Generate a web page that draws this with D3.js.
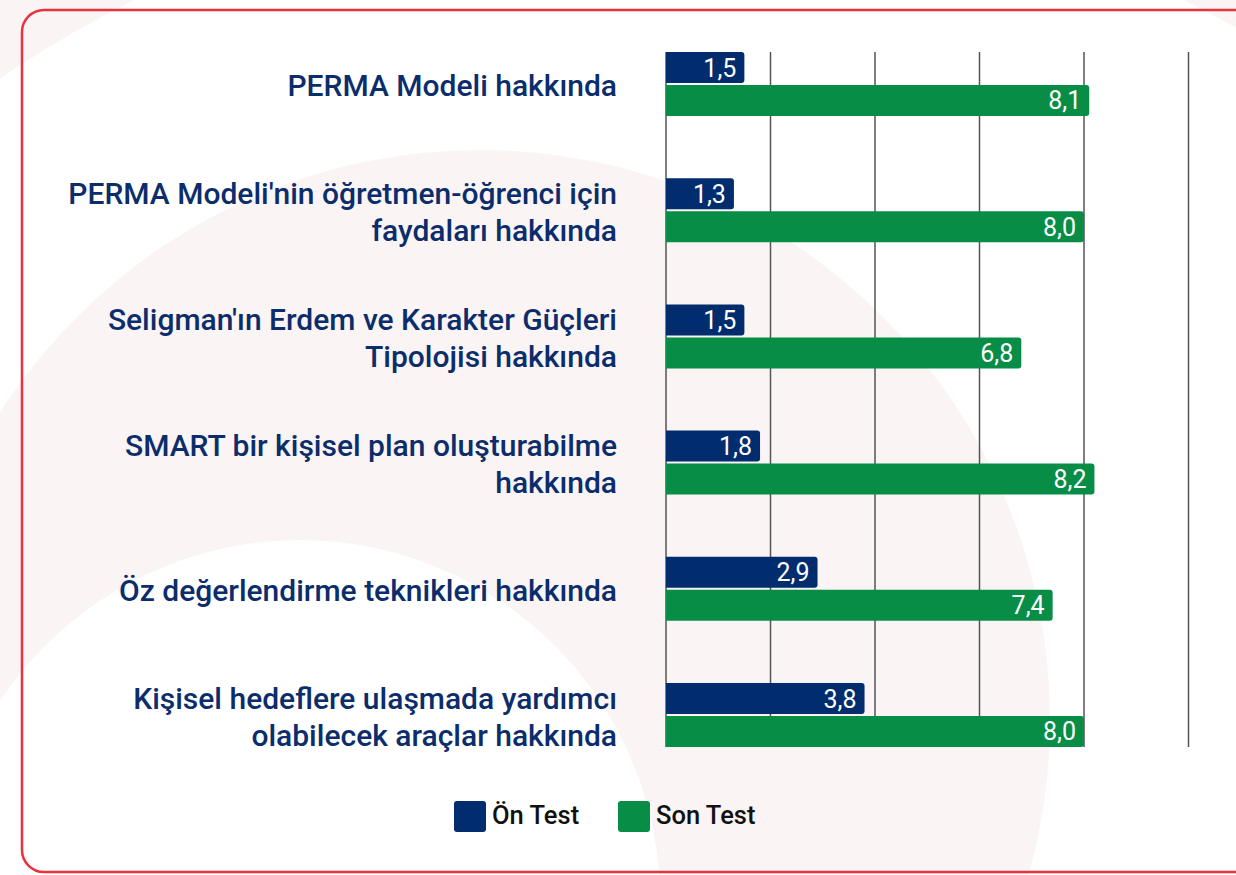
<!DOCTYPE html>
<html>
<head>
<meta charset="utf-8">
<script src="https://cdn.jsdelivr.net/npm/d3@7"></script>
<style>
  body { margin: 0; background: #fff; }
  text { font-family: Roboto, "Noto Sans", sans-serif; }
</style>
</head>
<body>
<script>
//Chart data
var categories = [
  "PERMA Modeli hakkında",
  "PERMA Modeli'nin öğretmen-öğrenci için faydaları hakkında",
  "Seligman'ın Erdem ve Karakter Güçleri Tipolojisi hakkında",
  "SMART bir kişisel plan oluşturabilme hakkında",
  "Öz değerlendirme teknikleri hakkında",
  "Kişisel hedeflere ulaşmada yardımcı olabilecek araçlar hakkında"
];
var labelLines = [
  ["PERMA Modeli hakkında"],
  ["PERMA Modeli'nin öğretmen-öğrenci için", "faydaları hakkında"],
  ["Seligman'ın Erdem ve Karakter Güçleri", "Tipolojisi hakkında"],
  ["SMART bir kişisel plan oluşturabilme", "hakkında"],
  ["Öz değerlendirme teknikleri hakkında"],
  ["Kişisel hedeflere ulaşmada yardımcı", "olabilecek araçlar hakkında"]
];
var seriesNames = ["Ön Test", "Son Test"];
var onTest = [1.5, 1.3, 1.5, 1.8, 2.9, 3.8];
var sonTest = [8.1, 8.0, 6.8, 8.2, 7.4, 8.0];
var gridTicks = [0, 2, 4, 6, 8, 10];

var colors = {"Ön Test": "#012c6e", "Son Test": "#078d46"};

var W = 1236, H = 875;

var svg = d3.select("body")
  .append("svg")
    .attr("width", W)
    .attr("height", H);

//Faint pink background swoosh
var bg = svg.append("g");
bg.append("circle")
  .attr("cx", 659).attr("cy", 1049).attr("r", 1173 + 500)
  .attr("fill", "none")
  .attr("stroke", "#fbf4f4")
  .attr("stroke-width", 1000);
bg.append("circle")
  .attr("cx", 480).attr("cy", 720).attr("r", 570)
  .attr("fill", "#fbf4f4");
bg.append("circle")
  .attr("cx", 300).attr("cy", 900).attr("r", 360)
  .attr("fill", "#ffffff");

//Card border
svg.append("rect")
  .attr("x", 22).attr("y", 10)
  .attr("width", 1300).attr("height", 862)
  .attr("rx", 22)
  .attr("fill", "none")
  .attr("stroke", "#e8333f")
  .attr("stroke-width", 2.5);

//Scales
var xScale = d3.scaleLinear()
  .domain([0, 10])
  .range([666, 1188.5]);

var yScale = d3.scaleBand()
  .domain(categories)
  .range([52, 747])
  .paddingInner(0.493)
  .paddingOuter(0);

var ySub = d3.scaleBand()
  .domain(seriesNames)
  .range([0, yScale.bandwidth()])
  .paddingInner(0.06);

var fmt = d3.formatLocale({decimal: ",", thousands: ".", grouping: [3], currency: ["", ""]}).format(".1f");

//Vertical gridlines
svg.append("g")
  .selectAll("line")
  .data(gridTicks)
  .enter()
  .append("line")
    .attr("x1", function(d) { return xScale(d); })
    .attr("x2", function(d) { return xScale(d); })
    .attr("y1", yScale.range()[0])
    .attr("y2", yScale.range()[1])
    .attr("stroke", "#555")
    .attr("stroke-width", 1.5);

//Bar shape with rounded right end
function barPath(x0, x1, y, h, r) {
  return "M" + x0 + "," + y +
    "H" + (x1 - r) +
    "Q" + x1 + "," + y + " " + x1 + "," + (y + r) +
    "V" + (y + h - r) +
    "Q" + x1 + "," + (y + h) + " " + (x1 - r) + "," + (y + h) +
    "H" + x0 + "Z";
}

var rows = categories.map(function(c, i) {
  return {cat: c, values: [{s: "Ön Test", v: onTest[i]}, {s: "Son Test", v: sonTest[i]}]};
});

var groups = svg.append("g")
  .selectAll("g")
  .data(rows)
  .enter()
  .append("g")
    .attr("transform", function(d) { return "translate(0," + yScale(d.cat) + ")"; });

var bars = groups.selectAll("g")
  .data(function(d) { return d.values; })
  .enter()
  .append("g");

bars.append("path")
  .attr("fill", function(d) { return colors[d.s]; })
  .attr("d", function(d) {
    return barPath(xScale(0), xScale(d.v), ySub(d.s), ySub.bandwidth(), 3);
  });

bars.append("text")
  .attr("x", function(d) { return xScale(d.v) - 8; })
  .attr("y", function(d) { return ySub(d.s) + ySub.bandwidth() / 2; })
  .attr("dy", "0.36em")
  .attr("text-anchor", "end")
  .attr("fill", "#fff")
  .style("font-size", "25px")
  .text(function(d) { return fmt(d.v); });

//Category labels
var lineH = 37;
svg.append("g")
  .selectAll("text")
  .data(categories)
  .enter()
  .append("text")
    .attr("text-anchor", "end")
    .attr("fill", "#0b2d6b")
    .style("font-size", "30px")
    .style("font-weight", 500)
    .each(function(d, i) {
      var lines = labelLines[i];
      var cy = yScale(d) + yScale.bandwidth() / 2;
      d3.select(this).selectAll("tspan")
        .data(lines)
        .enter()
        .append("tspan")
          .attr("x", 617)
          .attr("y", function(l, j) { return cy + (j - (lines.length - 1) / 2) * lineH + 12; })
          .text(function(l) { return l; });
    });

//Legend
var legendX = [454, 618];
var legend = svg.append("g")
  .selectAll("g")
  .data(seriesNames)
  .enter()
  .append("g")
    .attr("transform", function(d, i) { return "translate(" + legendX[i] + ",801)"; });

legend.append("rect")
  .attr("width", 32).attr("height", 31)
  .attr("rx", 3)
  .attr("fill", function(d) { return colors[d]; });

legend.append("text")
  .attr("x", 38)
  .attr("y", 23)
  .attr("fill", "#111")
  .style("font-size", "25.5px")
  .style("font-weight", 500)
  .text(function(d) { return d; });
</script>
</body>
</html>
